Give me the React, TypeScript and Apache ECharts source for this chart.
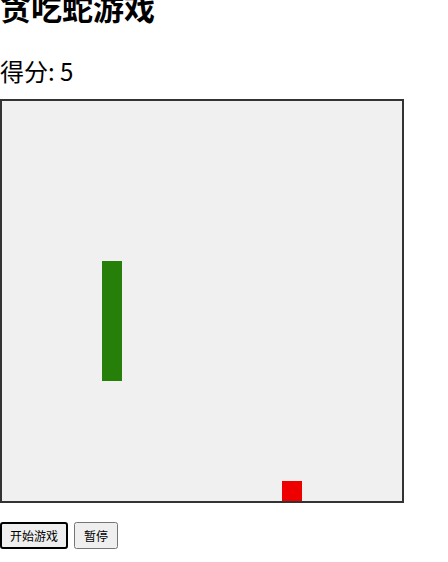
import React, { useEffect, useRef } from 'react';
import * as echarts from 'echarts';

const GRID_CELLS = 20;
const snakeCells: [number, number][] = [
  [5, 8], [5, 9], [5, 10], [5, 11], [5, 12], [5, 13],
];
const foodCells: [number, number][] = [[14, 19]];
const score = 5;

const center = (c: [number, number]) => [c[0] + 0.5, c[1] + 0.5];

const App: React.FC = () => {
  const divEL = useRef<HTMLDivElement>(null);

  useEffect(() => {
    document.body.style.margin = '0';
    const instance = echarts.init(divEL.current as any, undefined, { renderer: 'svg' });
    instance.setOption({
      animation: false,
      backgroundColor: '#f0f0f0',
      grid: { left: 0, top: 0, width: 400, height: 400 },
      xAxis: { type: 'value', min: 0, max: GRID_CELLS, show: false },
      yAxis: { type: 'value', min: 0, max: GRID_CELLS, inverse: true, show: false },
      series: [
        {
          type: 'scatter',
          symbol: 'rect',
          symbolSize: 20,
          itemStyle: { color: '#267f08', opacity: 1 },
          data: snakeCells.map(center),
        },
        {
          type: 'scatter',
          symbol: 'rect',
          symbolSize: 20,
          itemStyle: { color: '#ee0000', opacity: 1 },
          data: foodCells.map(center),
        },
      ],
    });
    return () => instance.dispose();
  }, []);

  const btn: React.CSSProperties = { fontSize: 12, padding: '3px 8px', marginRight: 6, fontFamily: '"Noto Sans CJK SC", sans-serif' };

  return (
    <div style={{ position: 'absolute', left: 0, top: 0, fontFamily: '"Noto Sans CJK SC", "Noto Sans", sans-serif' }}>
      <div style={{ position: 'absolute', top: -16, left: 0, fontSize: 31, fontWeight: 'bold', whiteSpace: 'nowrap' }}>贪吃蛇游戏</div>
      <div style={{ position: 'absolute', top: 53, left: 0, fontSize: 24, whiteSpace: 'nowrap' }}>得分: {score}</div>
      <div style={{ position: 'absolute', top: 99, left: 0, border: '2px solid #333', width: 400, height: 400 }}>
        <div ref={divEL} style={{ width: 400, height: 400 }}></div>
      </div>
      <div style={{ position: 'absolute', top: 522, left: 0, whiteSpace: 'nowrap' }}>
        <button style={{ ...btn, border: '2px solid #000', borderRadius: 3 }}>开始游戏</button>
        <button style={btn}>暂停</button>
      </div>
    </div>
  );
};

export default App;
